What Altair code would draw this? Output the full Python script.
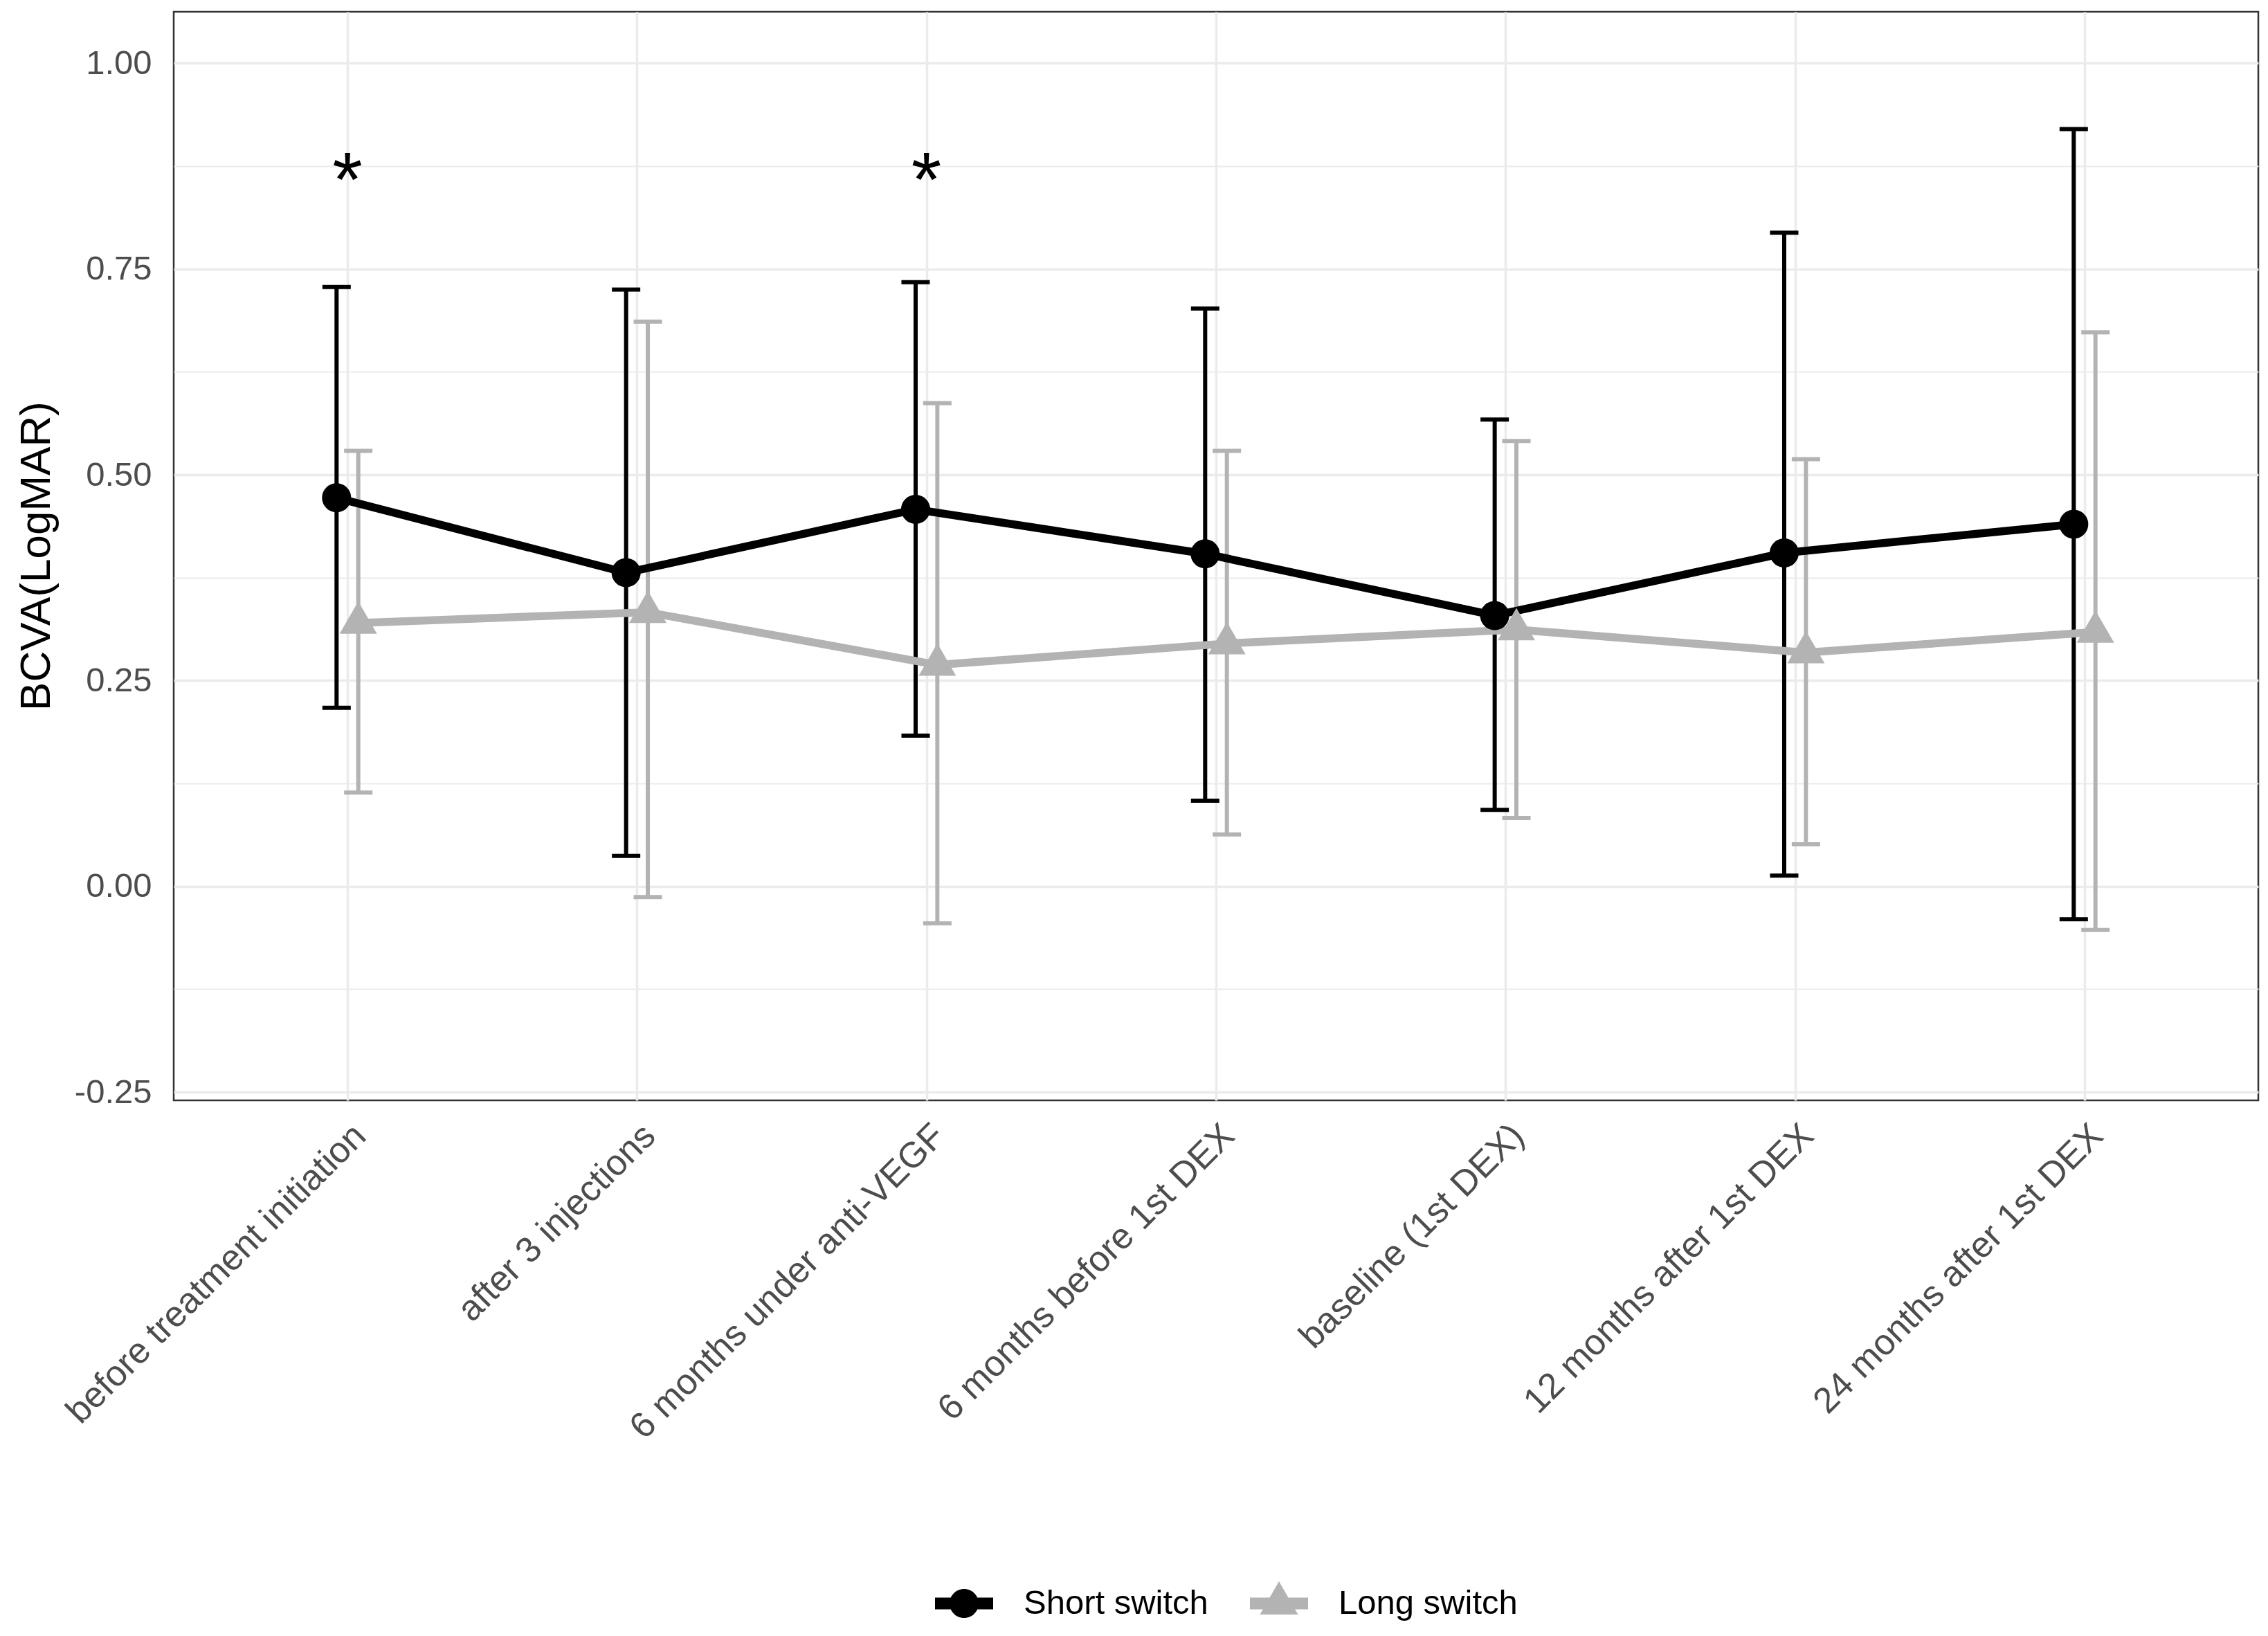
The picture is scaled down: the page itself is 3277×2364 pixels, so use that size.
import altair as alt
import pandas as pd

# ---------------- data ----------------
timepoints = [
    "before treatment initiation",
    "after 3 injections",
    "6 months under anti-VEGF",
    "6 months before 1st DEX",
    "baseline (1st DEX)",
    "12 months after 1st DEX",
    "24 months after 1st DEX",
]
groups = ["Short switch", "Long switch"]

short_mean = [0.472, 0.381, 0.458, 0.404, 0.329, 0.405, 0.440]
short_low = [0.217, 0.037, 0.183, 0.104, 0.093, 0.013, -0.040]
short_high = [0.728, 0.725, 0.734, 0.702, 0.567, 0.794, 0.920]

long_mean = [0.320, 0.333, 0.269, 0.295, 0.312, 0.284, 0.309]
long_low = [0.114, -0.013, -0.045, 0.063, 0.083, 0.051, -0.053]
long_high = [0.529, 0.686, 0.587, 0.529, 0.541, 0.519, 0.673]

significance = ["*", "", "*", "", "", "", ""]
sig_level = 0.826

y_grid_values = [-0.25, -0.125, 0.0, 0.125, 0.25, 0.375, 0.5, 0.625, 0.75, 0.875, 1.0]

# ---------------- tables ----------------
rows = []
for g, means, lows, highs in [
    ("Short switch", short_mean, short_low, short_high),
    ("Long switch", long_mean, long_low, long_high),
]:
    for i, tp in enumerate(timepoints):
        rows.append({"timepoint": tp, "idx": i + 1, "group": g,
                     "mean": means[i], "low": lows[i], "high": highs[i]})
df = pd.DataFrame(rows)

sig_df = pd.DataFrame([
    {"idx": i + 1, "label": s, "level": sig_level}
    for i, s in enumerate(significance) if s
])

# ---------------- styling ----------------
FONT = "Liberation Sans"
COLORS = ["#000000", "#B3B3B3"]
DODGE = 0.0375

PT_CIRCLE = "M-0.778,0A0.778,0.778 0 1,1 0.778,0A0.778,0.778 0 1,1 -0.778,0Z"
PT_TRI = "M0,-1.155L1,0.577L-1,0.577Z"
LEG_CIRCLE = ("M-1,-0.2H1V0.2H-1Z "
              "M-0.5,0A0.5,0.5 0 1,1 0.5,0A0.5,0.5 0 1,1 -0.5,0Z")
LEG_TRI = "M-1,-0.2H1V0.2H-1Z M0,-0.762L0.655,0.381L-0.655,0.381Z"

label_js = "[" + ",".join("'" + t + "'" for t in timepoints) + "]"

x_scale = alt.Scale(domain=[0.4, 7.6], nice=False, zero=False)
y_scale = alt.Scale(domain=[-0.26, 1.0625], nice=False, zero=False)

x_axis = alt.Axis(
    values=list(range(1, len(timepoints) + 1)),
    labelExpr=f"{label_js}[datum.value - 1]",
    labelAngle=-45, labelAlign="right", labelBaseline="top",
    labelPadding=25, labelFontSize=52, labelColor="#4D4D4D", labelFont=FONT,
    labelOverlap=False, labelFlush=False, labelLimit=2000,
    ticks=False, tickSize=0, domain=False,
    grid=True, gridColor="#EBEBEB", gridWidth=3.5,
    title=None,
)

minor_test = "abs(datum.value*4 - round(datum.value*4)) > 0.01"
y_axis = alt.Axis(
    values=y_grid_values,
    labelExpr=f"{minor_test} ? '' : (datum.value < 0 ? '-' : '') + format(abs(datum.value), '.2f')",
    labelPadding=32, labelFontSize=49, labelColor="#4D4D4D", labelFont=FONT,
    ticks=False, tickSize=0, domain=False,
    grid=True, gridColor="#EBEBEB",
    gridWidth={"condition": {"test": minor_test, "value": 1.8}, "value": 3.5},
    title="BCVA(LogMAR)", titleFontSize=62, titleColor="#000000", titleFont=FONT,
    titleFontWeight="normal", titleAngle=-90, titleX=-180, titleY=786,
    titleBaseline="alphabetic", titleAlign="center",
)

color_scale = alt.Scale(domain=groups, range=COLORS)

base = alt.Chart(df).transform_calculate(
    xpos=f"datum.idx + (datum.group === 'Short switch' ? {-DODGE} : {DODGE})"
)

X = alt.X("xpos:Q", scale=x_scale, axis=x_axis)
C = alt.Color("group:N", scale=color_scale, legend=None)

bars = base.mark_rule(strokeWidth=6).encode(
    x=X,
    y=alt.Y("low:Q", scale=y_scale, axis=y_axis),
    y2="high:Q",
    color=C,
)

caps = base.transform_fold(["low", "high"], as_=["end", "val"]).mark_tick(
    orient="horizontal", size=41, thickness=6, opacity=1
).encode(
    x=X,
    y=alt.Y("val:Q", scale=y_scale),
    color=C,
)

line = base.mark_line(strokeWidth=11.5).encode(
    x=X,
    y=alt.Y("mean:Q", scale=y_scale),
    color=C,
)

points = base.mark_point(filled=True, opacity=1, size=2916, strokeWidth=0).encode(
    x=X,
    y=alt.Y("mean:Q", scale=y_scale),
    color=C,
    shape=alt.Shape("group:N", scale=alt.Scale(domain=groups, range=[PT_CIRCLE, PT_TRI]), legend=None),
)

legend = alt.Legend(
    orient="none", legendX=1100, legendY=2258, direction="horizontal",
    title=None, labelFontSize=49, labelColor="#000000", labelFont=FONT,
    labelLimit=2000,
    symbolSize=7056, labelOffset=44, columnPadding=60, padding=0,
    symbolStrokeWidth=0, symbolOpacity=1,
)

# legend carrier: zero-size marks whose only job is the key (line + symbol)
legend_carrier = base.mark_point(filled=True, opacity=1, size=0, strokeWidth=0).encode(
    x=X,
    y=alt.Y("mean:Q", scale=y_scale),
    color=alt.Color("group:N", scale=color_scale, legend=legend),
    shape=alt.Shape("group:N", scale=alt.Scale(domain=groups, range=[LEG_CIRCLE, LEG_TRI]), legend=legend),
)

stars = alt.Chart(sig_df).mark_text(
    fontSize=112, font=FONT, color="#000000", align="center", baseline="alphabetic"
).encode(
    x=alt.X("idx:Q", scale=x_scale),
    y=alt.Y("level:Q", scale=y_scale),
    text="label:N",
)

chart = alt.layer(legend_carrier, bars, caps, line, points, stars).resolve_scale(
    color="independent", shape="independent"
).properties(
    width=3012,
    height=1573,
    autosize=alt.AutoSizeParams(type="none"),
    padding={"left": 243, "top": 9, "right": 6, "bottom": 766},
    background="#FFFFFF",
).configure(
    font=FONT,
    view=alt.ViewConfig(stroke="#333333", strokeWidth=2.5),
)

chart.save("out.html", embed_options={"renderer": "svg", "actions": False})
